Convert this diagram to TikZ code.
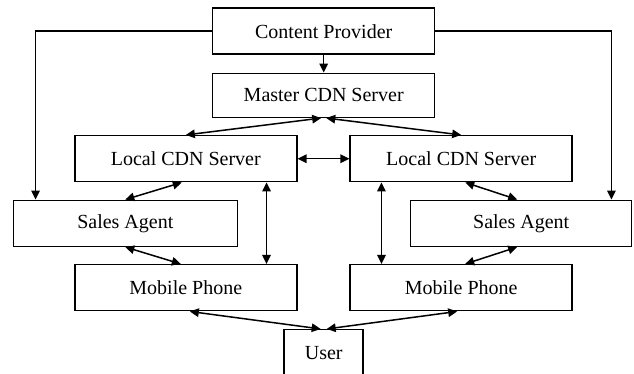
\documentclass[tikz,border=0pt]{standalone}
\usepackage{fontspec}
\setmainfont{Liberation Serif}
\usetikzlibrary{arrows.meta}

\begin{document}
\begin{tikzpicture}[x=1pt, y=-1pt, line width=1.5pt,
    every node/.style={font=\fontsize{20}{24}\selectfont},
    box/.style={draw, rectangle, inner sep=0pt, minimum height=46pt},
    link/.style={{Triangle[length=9pt,width=8.5pt]}-{Triangle[length=9pt,width=8.5pt]}},
    feed/.style={-{Triangle[length=9pt,width=8.5pt]}}]
  \useasboundingbox (0,0) rectangle (634,373);
  % servers
  \node[box, minimum width=222pt] (cp) at (323.7,31.2) {Content Provider};
  \node[box, minimum width=222pt, minimum height=44pt] (master) at (323.7,95.3) {Master CDN Server};
  \node[box, minimum width=222pt] (localL) at (185.8,158.7) {Local CDN Server};
  \node[box, minimum width=222pt] (localR) at (461.2,158.7) {Local CDN Server};
  % agents, phones, user
  \node[box, minimum width=224pt] (salesL) at (125.3,223.3) {Sales Agent};
  \node[box, minimum width=221pt] (salesR) at (521.2,223.3) {Sales Agent};
  \node[box, minimum width=222pt] (mobileL) at (185.8,287.7) {Mobile Phone};
  \node[box, minimum width=222pt] (mobileR) at (461.2,287.7) {Mobile Phone};
  \node[box, minimum width=79pt] (user) at (323.7,352.7) {User};

  \draw[feed] (cp.south) -- (master.north);
  \draw[feed] (cp.west) -| ([xshift=23pt]salesL.north west);
  \draw[feed] (cp.east) -| ([xshift=-21pt]salesR.north east);

  \draw[link] (localL.north) -- ([xshift=-2.5pt]master.south);
  \draw[link] (localR.north) -- ([xshift=2.5pt]master.south);
  \draw[link] (localL.east) -- (localR.west);

  \draw[link] ([xshift=-4pt]localL.south) -- (salesL.north);
  \draw[link] ([xshift=4pt]localR.south) -- ([xshift=-4pt]salesR.north);
  \draw[link] (salesL.south) -- ([xshift=-5pt]mobileL.north);
  \draw[link] ([xshift=-4pt]salesR.south) -- ([xshift=4pt]mobileR.north);
  \draw[link] ([xshift=-31pt]localL.south east) -- ([xshift=-31pt]mobileL.north east);
  \draw[link] ([xshift=32pt]localR.south west) -- ([xshift=32pt]mobileR.north west);

  \draw[link] ([xshift=4pt]mobileL.south) -- ([xshift=-3pt]user.north);
  \draw[link] ([xshift=-4pt]mobileR.south) -- ([xshift=3pt]user.north);
\end{tikzpicture}
\end{document}
